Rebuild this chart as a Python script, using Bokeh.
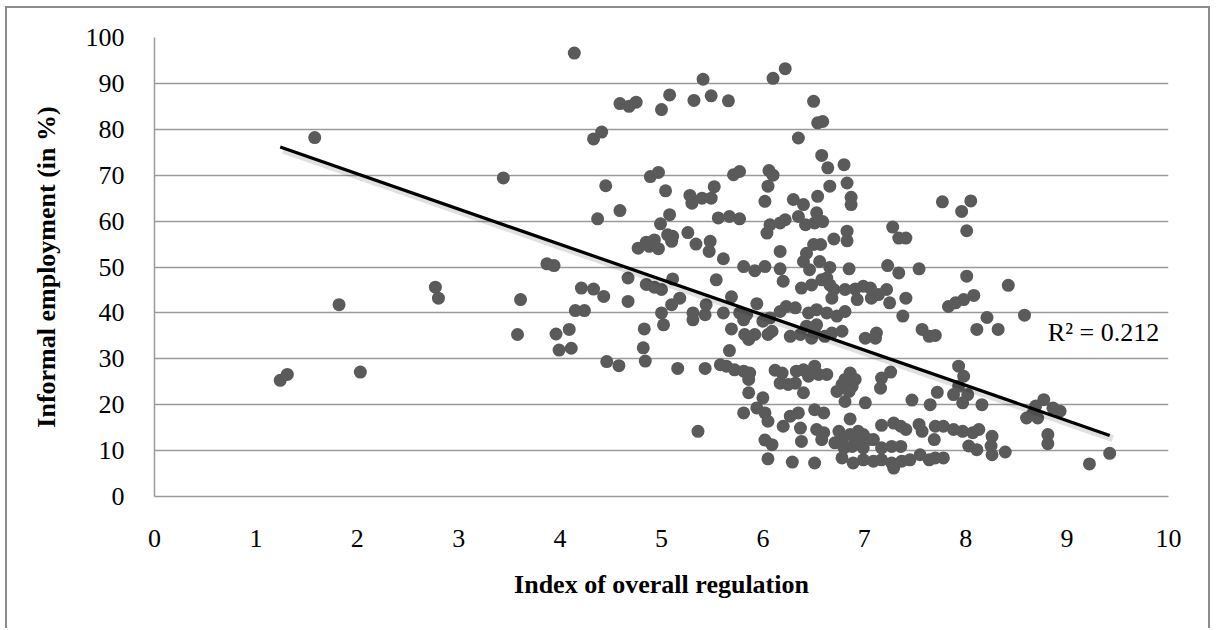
import numpy as np
from bokeh.plotting import figure
from bokeh.models import FixedTicker, Range1d
from bokeh.core.properties import value
from bokeh.embed import file_html
from bokeh.resources import INLINE

# ---- data ----
x_index = [
    1.24, 1.31, 1.58, 1.82, 2.03,
    4.14, 4.59, 4.41, 4.33, 3.44, 4.45, 4.59, 4.37, 3.87, 3.94,
    2.77, 2.80, 3.61, 3.58, 4.21, 4.33, 4.43, 4.15, 4.24, 3.96, 4.09, 3.99, 4.11, 4.46, 4.58,
    4.68, 4.75, 5.00, 5.08, 5.32, 5.41, 5.49, 5.66, 6.10, 6.22, 6.35,
    4.89, 4.97, 5.04, 5.28, 5.30, 5.40, 5.49, 5.52, 5.71, 5.77, 6.06, 6.10, 6.05, 6.02, 6.30, 6.40,
    5.08, 4.99, 5.56, 5.67, 5.77, 6.07, 6.04, 6.17, 6.22, 6.35,
    5.06, 5.11, 5.10, 5.26, 5.34, 5.48, 5.47,
    4.77, 4.85, 4.93, 4.88, 4.97, 5.61, 6.17,
    5.81, 5.92, 6.02, 6.17, 6.40,
    4.67, 4.67, 4.85, 4.93, 5.00, 5.11, 5.54, 6.20, 6.38,
    5.18, 5.10, 5.00, 5.02, 4.83, 4.82, 4.84, 5.16, 5.43,
    5.31, 5.31, 5.44, 5.43, 5.61, 5.69, 5.77, 5.84, 5.81, 5.69,
    5.82, 5.86, 5.92, 5.94, 6.00, 6.07, 6.05, 6.09, 6.17, 6.23, 6.32, 6.27, 6.37,
    5.67, 5.58, 5.64, 5.72, 5.81, 5.87, 5.86, 6.12, 6.19, 6.17, 6.25, 6.32, 6.33, 6.40,
    6.40, 5.86, 6.00, 5.81, 5.94, 6.02, 6.05, 6.20, 6.27, 6.35, 6.37, 5.36, 6.02, 6.09, 6.38, 6.05, 6.29,
    6.50, 6.54, 6.59, 6.58, 6.64, 6.80, 6.66, 6.83, 6.54, 6.87, 6.87,
    6.53, 6.42, 6.51, 6.59, 7.77, 8.05, 7.96, 8.01, 7.28, 7.34, 7.41,
    6.50, 6.57, 6.70, 6.83, 6.83, 6.43, 6.56,
    6.66, 6.85, 7.23, 7.34, 7.54,
    6.46, 8.01, 6.48, 6.58, 6.63, 6.66, 6.70, 6.68,
    6.81, 6.91, 6.99, 7.06, 6.93, 7.07, 7.14, 7.22, 7.25, 7.41,
    7.83, 7.90, 7.98, 8.08, 7.38,
    6.45, 6.53, 6.63, 6.73, 6.81,
    6.43, 6.53, 6.51, 6.48, 6.61, 6.68, 6.78,
    7.01, 7.12, 7.11, 7.57, 7.64, 7.70, 8.11,
    6.51, 6.45, 6.55, 6.63,
    6.86, 6.81, 6.91, 6.88, 6.78, 6.73, 6.85,
    7.17, 7.26, 7.16, 7.93, 7.98, 7.93,
    6.81, 7.01, 7.47, 7.65, 7.72, 7.88, 7.97, 8.02, 8.16,
    6.51, 6.60, 6.86,
    6.53, 6.60, 6.58,
    6.75, 6.78, 6.71, 6.86, 6.94, 6.99, 7.04, 6.93, 7.09,
    7.17, 7.29, 7.36, 7.41,
    7.54, 7.57, 7.70, 7.78, 7.69,
    7.88, 7.97, 8.07, 8.13, 8.03, 8.11,
    6.80, 6.88, 6.99, 7.17, 7.27, 7.36,
    6.78, 6.89, 6.99, 7.09, 7.17, 7.27, 7.29, 7.37, 7.45, 7.55, 7.64, 7.70, 7.78,
    6.51,
    8.42, 8.21, 8.32, 8.58, 8.26, 8.25, 8.26, 8.39, 8.60, 8.66, 8.69, 8.77, 8.86, 8.93, 8.71,
    8.81, 8.81, 9.22, 9.42,
]
y_informal = [
    25.3, 26.6, 78.2, 41.8, 27.1,
    96.6, 85.6, 79.4, 77.9, 69.4, 67.7, 62.3, 60.5, 50.7, 50.3,
    45.6, 43.2, 42.9, 35.3, 45.4, 45.2, 43.6, 40.5, 40.5, 35.4, 36.4, 31.9, 32.3, 29.4, 28.5,
    85.0, 85.9, 84.3, 87.5, 86.3, 90.9, 87.3, 86.2, 91.1, 93.2, 78.1,
    69.7, 70.6, 66.6, 65.6, 63.9, 65.0, 65.0, 67.5, 70.1, 70.8, 71.0, 70.0, 67.6, 64.3, 64.7, 63.6,
    61.4, 59.4, 60.7, 61.0, 60.5, 59.2, 57.4, 59.6, 60.3, 61.0,
    57.0, 56.7, 55.6, 57.5, 55.0, 55.6, 53.4,
    54.1, 55.4, 55.9, 54.5, 54.0, 51.8, 53.4,
    50.1, 49.2, 50.1, 49.6, 51.2,
    47.6, 42.5, 46.2, 45.6, 45.1, 47.4, 47.2, 46.9, 45.4,
    43.2, 41.8, 40.0, 37.4, 36.5, 32.4, 29.5, 27.9, 27.9,
    40.0, 38.5, 41.8, 39.6, 40.0, 43.5, 40.0, 39.6, 38.5, 36.5,
    35.3, 34.2, 35.3, 42.0, 38.2, 38.9, 35.3, 36.0, 40.3, 41.4, 41.1, 34.9, 35.3,
    31.8, 28.7, 28.4, 27.6, 27.3, 26.9, 25.5, 27.5, 26.9, 24.7, 24.4, 24.7, 27.3, 27.6,
    22.6, 22.6, 21.5, 18.2, 19.3, 18.2, 16.4, 15.3, 17.5, 18.2, 14.9, 14.2, 12.3, 11.3, 12.0, 8.2, 7.5,
    86.1, 81.4, 81.7, 74.3, 71.6, 72.3, 67.6, 68.3, 65.4, 65.2, 63.6,
    61.8, 59.2, 59.6, 59.9, 64.2, 64.4, 62.1, 57.9, 58.7, 56.3, 56.3,
    54.9, 54.9, 56.1, 57.8, 55.7, 53.0, 51.2,
    49.9, 49.6, 50.3, 48.7, 49.6,
    49.4, 48.0, 46.1, 47.2, 47.6, 46.1, 45.1, 43.2,
    45.1, 45.2, 45.8, 45.4, 42.9, 43.2, 44.0, 45.1, 42.2, 43.2,
    41.4, 42.2, 42.9, 43.8, 39.3,
    40.0, 40.7, 40.0, 39.3, 40.3,
    37.1, 37.4, 35.6, 34.5, 34.9, 35.6, 36.0,
    34.5, 35.6, 34.5, 36.4, 34.9, 35.1, 36.4,
    28.4, 26.2, 26.6, 26.6,
    26.9, 25.5, 25.5, 24.0, 24.4, 22.9, 22.9,
    25.8, 27.1, 23.6, 28.4, 26.2, 24.0,
    20.7, 20.4, 21.0, 20.0, 22.7, 22.2, 20.4, 22.2, 20.0,
    18.9, 18.2, 16.9,
    14.6, 13.9, 12.4,
    14.2, 12.4, 11.7, 13.5, 14.2, 13.5, 12.4, 11.7, 12.4,
    15.5, 16.0, 15.3, 14.6,
    15.7, 14.2, 15.3, 15.3, 12.4,
    14.6, 14.2, 13.9, 14.6, 11.0, 10.2,
    10.6, 10.9, 10.6, 10.6, 10.9, 10.9,
    8.4, 7.3, 8.0, 7.7, 8.0, 7.3, 6.2, 7.7, 8.0, 9.1, 8.0, 8.4, 8.4,
    7.3,
    46.0, 39.0, 36.4, 39.5, 13.1, 11.0, 9.1, 9.7, 17.1, 18.0, 19.7, 21.1, 19.3, 18.6, 17.1,
    13.5, 11.5, 7.1, 9.4,
]

TREND_SLOPE = -7.68
TREND_INTERCEPT = 85.65
R2_VALUE = 0.212
R2_POS = (8.81, 35.7)

X_TICKS = list(range(0, 11))
Y_TICKS = list(range(0, 101, 10))
X_TITLE = "Index of overall regulation"
Y_TITLE = "Informal employment (in %)"

FONT = "Liberation Serif"
FONT_SIZE = "26px"
GRID = "#9a9a9a"
BORDER = "2px solid #8c8c8c"

p = figure(
    frame_width=1014, frame_height=459,
    x_range=Range1d(0, 10), y_range=Range1d(0, 100),
    output_backend="svg", toolbar_location=None,
    min_border_left=147, min_border_right=40, min_border_top=29, min_border_bottom=132,
    margin=(6, 0, 0, 5),
    styles={"border-top": BORDER, "border-left": BORDER, "border-right": BORDER},
)
p.outline_line_color = None
p.background_fill_color = "white"
p.border_fill_color = "white"

p.xgrid.visible = False
p.ygrid.grid_line_color = GRID
p.ygrid.grid_line_width = 1.5
p.ygrid.ticker = FixedTicker(ticks=Y_TICKS)

p.xaxis.ticker = FixedTicker(ticks=X_TICKS)
p.yaxis.ticker = FixedTicker(ticks=Y_TICKS)
for ax in (p.xaxis[0], p.yaxis[0]):
    ax.axis_line_color = GRID
    ax.axis_line_width = 1.5
    ax.major_tick_line_color = None
    ax.minor_tick_line_color = None
    ax.major_label_text_font = FONT
    ax.major_label_text_font_size = FONT_SIZE
    ax.major_label_text_color = "black"
    ax.axis_label_text_font = FONT
    ax.axis_label_text_font_size = FONT_SIZE
    ax.axis_label_text_font_style = "bold"
    ax.axis_label_text_color = "black"

p.xaxis.axis_label = X_TITLE
p.yaxis.axis_label = Y_TITLE
p.xaxis.major_label_standoff = 27
p.xaxis.axis_label_standoff = 20
p.yaxis.major_label_standoff = 24
p.yaxis.axis_label_standoff = 22

p.scatter(x_index, y_informal, size=13, fill_color="#5a5a5a", line_color=None)

tx = np.array([min(x_index), max(x_index)])
ty = TREND_INTERCEPT + TREND_SLOPE * tx
p.line(tx + 0.03, ty - 0.7, line_color="#000000", line_alpha=0.12, line_width=7)
p.line(tx, ty, line_color="black", line_width=3.2)

p.text(x=[R2_POS[0]], y=[R2_POS[1]], text=[f"R\u00b2 = {R2_VALUE}"],
       text_font=value(FONT), text_font_size=FONT_SIZE, text_color="black",
       text_baseline="middle", text_align="left")

open("out.html", "w").write(file_html(p, INLINE))
